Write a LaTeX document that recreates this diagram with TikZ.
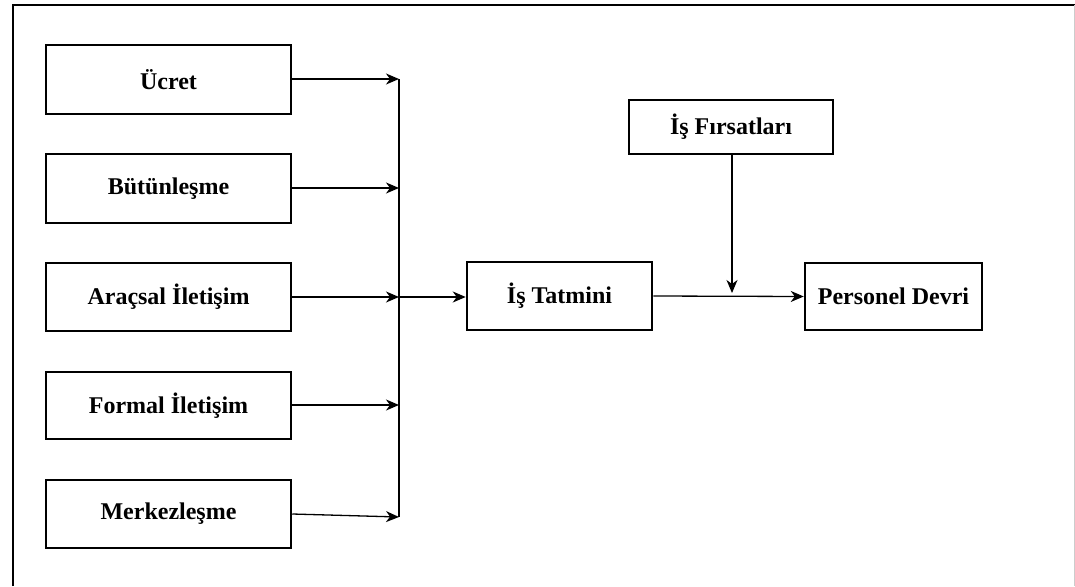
\documentclass[tikz,border=0pt]{standalone}
\usepackage{fontspec}
\setmainfont{Liberation Serif}
\usetikzlibrary{arrows.meta}
\begin{document}
\begin{tikzpicture}[x=1pt,y=-1pt,
  box/.style={draw=black,line width=2.5pt,minimum width=245pt,minimum height=68pt,
    inner sep=0pt,font=\fontsize{24}{28}\selectfont\bfseries},
  conn/.style={draw=black,line width=1.3pt},
  arr/.style={conn,-{Stealth[length=13pt,width=11pt,inset=4pt]}}]
  \useasboundingbox (0,0) rectangle (1075,586);
  % page frame
  \draw[line width=2.5pt] (13,586) -- (13,5) -- (1075,5);
  \draw[black!20,line width=0.8pt] (1074,5) -- (1074,586);

  % factor boxes
  \node[box,minimum height=69pt] (ucret) at (168.5,79.5) {Ücret};
  \node[box,minimum height=69pt] (butun) at (168.5,188.5) {Bütünleşme};
  \node[box] (aracsal) at (168.5,297) {Araçsal İletişim};
  \node[box,minimum height=67pt] (formal) at (168.5,405.5) {Formal İletişim};
  \node[box] (merkez) at (168.5,514) {Merkezleşme};

  % outcome boxes
  \node[box,minimum width=185pt] (tatmin) at (559.5,296) {İş Tatmini};
  \node[box,minimum width=177pt,minimum height=67pt] (devir) at (893.5,296.5) {Personel Devri};
  \node[box,minimum width=204pt,minimum height=54pt] (firsat) at (731,127) {İş Fırsatları};

  % collecting bus
  \coordinate (b1) at (399,79);
  \coordinate (b2) at (399,188);
  \coordinate (b3) at (399,297);
  \coordinate (b4) at (399,405);
  \coordinate (b5) at (399,517);
  \coordinate (mod) at (732,293);

  \draw[arr] (ucret.east |- b1) -- (b1);
  \draw[arr] (butun.east |- b2) -- (b2);
  \draw[arr] (aracsal.east |- b3) -- (b3);
  \draw[arr] (formal.east |- b4) -- (b4);
  \draw[arr] (merkez.east) -- (b5);
  \draw[conn] (b1) -- (b5);
  \draw[arr] (b3) -- (tatmin.west |- b3);
  \draw[arr] (tatmin.east) -- (devir.west);
  \draw[arr] (firsat.south -| mod) -- (mod);
\end{tikzpicture}
\end{document}
